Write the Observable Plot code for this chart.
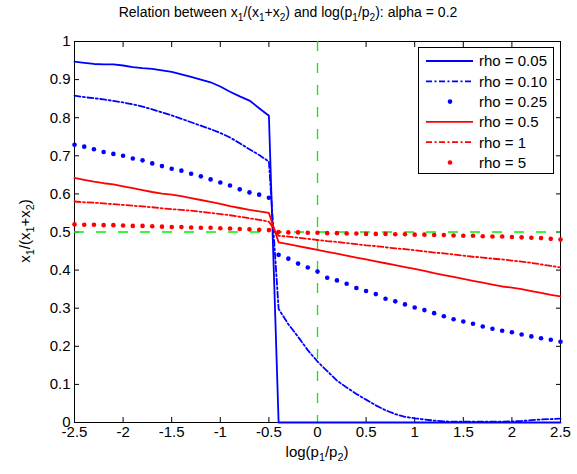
<!DOCTYPE html>
<html><head><meta charset="utf-8">
<script src="https://cdn.jsdelivr.net/npm/d3@7"></script>
<script src="https://cdn.jsdelivr.net/npm/@observablehq/plot@0.6"></script>
<style>body{margin:0;background:#fff} #chart{width:577px;height:474px}</style>
</head><body><div id="chart"></div>
<script>
// log(p1/p2) grid
const xs = [-2.5,-2.4,-2.3,-2.2,-2.1,-2.0,-1.9,-1.8,-1.7,-1.6,-1.5,-1.4,-1.3,-1.2,-1.1,-1.0,-0.9,-0.8,-0.7,-0.6,-0.5,
  -0.4,-0.3,-0.2,-0.1,0.0,0.1,0.2,0.3,0.4,0.5,0.6,0.7,0.8,0.9,1.0,1.1,1.2,1.3,1.4,1.5,1.6,1.7,1.8,1.9,2.0,2.1,2.2,2.3,2.4,2.5];
const rho005 = [0.947,0.944,0.941,0.940,0.940,0.937,0.933,0.930,0.928,0.924,0.920,0.914,0.907,0.900,0.893,0.882,0.868,0.856,0.845,0.825,0.805,
  0,0,0,0,0,0,0,0,0,0,0,0,0,0,0,0,0,0,0,0,0,0,0,0,0,0,0,0,0,0];
const rho010 = [0.858,0.854,0.851,0.848,0.844,0.840,0.835,0.829,0.822,0.814,0.806,0.797,0.788,0.779,0.770,0.760,0.748,0.733,0.717,0.702,0.685,
  0.298,0.258,0.225,0.190,0.160,0.135,0.110,0.092,0.075,0.060,0.045,0.032,0.022,0.015,0.011,0.008,0.005,0.003,0.002,0.002,0.002,0.002,0.002,0.002,0.003,0.004,0.006,0.008,0.009,0.010];
const rho025 = [0.729,0.724,0.717,0.710,0.705,0.700,0.693,0.688,0.680,0.673,0.666,0.661,0.653,0.646,0.638,0.630,0.622,0.612,0.604,0.598,0.590,
  0.440,0.430,0.417,0.407,0.396,0.380,0.373,0.364,0.353,0.345,0.337,0.325,0.318,0.310,0.302,0.295,0.287,0.279,0.271,0.265,0.259,0.252,0.246,0.241,0.237,0.231,0.226,0.221,0.217,0.212];
const rho05 = [0.642,0.637,0.632,0.628,0.625,0.620,0.615,0.610,0.605,0.601,0.598,0.594,0.589,0.584,0.579,0.574,0.568,0.563,0.558,0.554,0.550,
  0.473,0.468,0.463,0.458,0.453,0.448,0.443,0.438,0.433,0.428,0.423,0.418,0.413,0.408,0.403,0.398,0.392,0.387,0.382,0.377,0.372,0.367,0.362,0.357,0.354,0.350,0.345,0.340,0.335,0.331];
const rho1 = [0.580,0.578,0.577,0.575,0.573,0.571,0.569,0.567,0.565,0.562,0.560,0.558,0.556,0.553,0.550,0.547,0.544,0.540,0.536,0.532,0.527,
  0.490,0.488,0.485,0.482,0.479,0.476,0.474,0.471,0.468,0.465,0.463,0.460,0.457,0.455,0.452,0.449,0.446,0.444,0.441,0.438,0.435,0.433,0.430,0.428,0.425,0.422,0.419,0.415,0.411,0.407];
const rho5 = [0.520,0.519,0.519,0.518,0.518,0.517,0.516,0.516,0.515,0.514,0.513,0.513,0.512,0.511,0.511,0.510,0.509,0.508,0.507,0.506,0.505,
  0.500,0.499,0.499,0.498,0.498,0.497,0.497,0.496,0.496,0.495,0.495,0.495,0.494,0.494,0.493,0.493,0.492,0.492,0.491,0.490,0.490,0.489,0.488,0.488,0.487,0.486,0.485,0.484,0.482,0.480];

const seriesLabels = ["rho = 0.05","rho = 0.10","rho = 0.25","rho = 0.5","rho = 1","rho = 5"];
const xTicks = [-2.5,-2,-1.5,-1,-0.5,0,0.5,1,1.5,2,2.5];
const yTicks = [0,0.1,0.2,0.3,0.4,0.5,0.6,0.7,0.8,0.9,1];
const refX = [0];
const refY = [0.5];
const titleText = "Relation between x_1/(x_1+x_2) and log(p_1/p_2): alpha = 0.2";
const xLabelText = "log(p_1/p_2)";
const yLabelText = "x_1/(x_1+x_2)";

const BLUE = "#0000ff", RED = "#ff0000", GREEN = "#00f000";
const DASHDOT = "6,2.5,2,2.5";
const styles = [
  {type: "line", stroke: BLUE},
  {type: "line", stroke: BLUE, dash: DASHDOT},
  {type: "dot", stroke: BLUE},
  {type: "line", stroke: RED},
  {type: "line", stroke: RED, dash: DASHDOT},
  {type: "dot", stroke: RED}
];
const series = [rho005, rho010, rho025, rho05, rho1, rho5];
const rows = ys => xs.map((x, i) => ({x, y: ys[i]}));

const font = "'Liberation Sans', Arial, Helvetica, sans-serif";
const seriesMarks = series.map((ys, k) => {
  const s = styles[k];
  if (s.type === "dot") return Plot.dot(rows(ys), {x: "x", y: "y", r: 2.3, fill: s.stroke, stroke: "none"});
  return Plot.line(rows(ys), {x: "x", y: "y", stroke: s.stroke, strokeWidth: 1.8, strokeDasharray: s.dash ?? null});
});

const svg = Plot.plot({
  width: 577, height: 474,
  marginLeft: 74, marginRight: 17, marginTop: 41, marginBottom: 52,
  style: {fontFamily: font, fontSize: "15px", background: "#fff", color: "#000", overflow: "visible"},
  x: {domain: [-2.5, 2.5]},
  y: {domain: [0, 1]},
  marks: [
    Plot.frame({stroke: "#000"}),
    Plot.axisX(xTicks, {anchor: "bottom", tickSize: -5, tickPadding: 9, tickFormat: d => String(d), label: null}),
    Plot.axisX(xTicks, {anchor: "top", tickSize: -5, tickFormat: () => "", label: null}),
    Plot.axisY(yTicks, {anchor: "left", tickSize: -5, tickPadding: 9, tickFormat: d => String(d), label: null}),
    Plot.axisY(yTicks, {anchor: "right", tickSize: -5, tickFormat: () => "", label: null}),
    Plot.ruleY(refY, {stroke: GREEN, strokeWidth: 1.3, strokeDasharray: "10,12"}),
    Plot.ruleX(refX, {stroke: GREEN, strokeWidth: 1.3, strokeDasharray: "10,12"}),
    ...seriesMarks
  ]
});
document.getElementById("chart").appendChild(svg);

// rich text with subscripts ("_1")
function rich(sel, str, size) {
  const parts = str.split(/_(\d)/);
  let low = false;
  const shift = size * 0.28;
  parts.forEach((p, i) => {
    if (!p) return;
    const t = sel.append("tspan").text(p);
    if (i % 2) { t.attr("font-size", size * 0.72).attr("dy", low ? 0 : shift); low = true; }
    else { t.attr("font-size", size).attr("dy", low ? -shift : 0); low = false; }
  });
}
const root = d3.select(svg);
const g = root.append("g").attr("font-family", font).attr("fill", "#000");
rich(g.append("text").attr("x", 288).attr("y", 17).attr("text-anchor", "middle"), titleText, 14);
rich(g.append("text").attr("x", 317).attr("y", 457).attr("text-anchor", "middle"), xLabelText, 15);
rich(g.append("text").attr("transform", "translate(30,231) rotate(-90)").attr("text-anchor", "middle"), yLabelText, 15);

// legend
const lg = root.append("g").attr("font-family", font).attr("font-size", 15).attr("text-anchor", "start");
lg.append("rect").attr("x", 418.5).attr("y", 47.5).attr("width", 135).attr("height", 126)
  .attr("fill", "#fff").attr("stroke", "#000");
seriesLabels.forEach((lab, k) => {
  const s = styles[k];
  const cy = 61 + k * 20.3;
  if (s.type === "dot") lg.append("circle").attr("cx", 450).attr("cy", cy).attr("r", 2.3).attr("fill", s.stroke);
  else lg.append("line").attr("x1", 426).attr("x2", 473).attr("y1", cy).attr("y2", cy)
    .attr("stroke", s.stroke).attr("stroke-width", 1.8).attr("stroke-dasharray", s.dash ?? null);
  lg.append("text").attr("x", 479).attr("y", cy).attr("dy", "0.36em").attr("fill", "#000").text(lab);
});
</script></body></html>
